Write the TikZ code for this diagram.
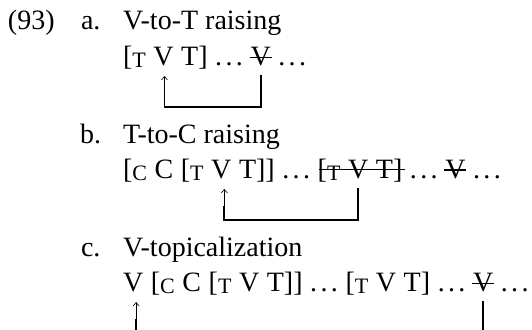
\documentclass[tikz,border=0pt]{standalone}
\usepackage{fontspec}
\setmainfont{Liberation Serif}
\usetikzlibrary{calc,arrows.meta}
\newcommand\lbl[1]{\raisebox{-2.5pt}{\fontsize{22}{22}\selectfont #1}}
\newcommand\dts{.\kern.12em.\kern.12em.}
\tikzset{
  txt/.style={inner sep=0pt, outer sep=0pt, anchor=base west, font=\fontsize{28}{33.6}\selectfont},
  strike/.style={line width=1.4pt},
  brk/.style={line width=1.8pt},
  arr/.style={line width=0.6pt, -{Straight Barb[length=3.5pt,width=6pt]}},
  sp/.style={xshift=7.6pt}
}
\begin{document}
\begin{tikzpicture}[x=1pt,y=-1pt]
\useasboundingbox (0,0) rectangle (532,329);
\clip (0,0) rectangle (532,329);
% labels
\node[txt] (ex) at (8,30) {(93)};
\node[txt] (la) at (81,30) {a.};
\node[txt] (ta) at (123,30) {V-to-T raising};
\node[txt] (lb) at (80,143) {b.};
\node[txt] (tb) at (123,143) {T-to-C raising};
\node[txt] (lc) at (81,256) {c.};
\node[txt] (tc) at (123,256) {V-topicalization};
% row a
\node[txt] (a1) at (123,65) {[\lbl{T}};
\node[txt] (aV) at ([sp]a1.base east) {V};
\node[txt] (a2) at ([sp]aV.base east) {T]};
\node[txt] (a3) at ([sp]a2.base east) {\dts};
\node[txt] (aX) at ([sp]a3.base east) {V};
\node[txt] (a4) at ([sp]aX.base east) {\dts};
\draw[strike] ($(aX.base west)+(-1,-7.5)$) -- ($(aX.base east)+(1,-7.5)$);
\draw[brk] ($(aX.base)+(0,10)$) -- ($(aX.base)+(0,42)$) -| ($(aV.base)+(1,28)$);
\draw[arr] ($(aV.base)+(1,28.9)$) -- ($(aV.base)+(1,11)$);
% row b
\node[txt] (b1) at (123,178) {[\lbl{C}};
\node[txt] (bC) at ([sp]b1.base east) {C};
\node[txt] (b2) at ([sp]bC.base east) {[\lbl{T}};
\node[txt] (bV) at ([sp]b2.base east) {V};
\node[txt] (b3) at ([sp]bV.base east) {T]]};
\node[txt] (b4) at ([sp]b3.base east) {\dts};
\node[txt] (b5) at ([sp]b4.base east) {[\lbl{T}};
\node[txt] (bXV) at ([sp]b5.base east) {V};
\node[txt] (b6) at ([sp]bXV.base east) {T]};
\node[txt] (b7) at ([sp]b6.base east) {\dts};
\node[txt] (bY) at ([sp]b7.base east) {V};
\node[txt] (b8) at ([sp]bY.base east) {\dts};
\draw[strike] ($(b5.base west)+(1,-8.5)$) -- ($(b6.base east)+(3,-8.5)$);
\draw[strike] ($(bY.base west)+(-1,-8)$) -- ($(bY.base east)+(1,-8)$);
\draw[brk] ($(bXV.base)+(0,10)$) -- ($(bXV.base)+(0,42)$) -| ($(bV.base)+(3,28)$);
\draw[arr] ($(bV.base)+(3,28.9)$) -- ($(bV.base)+(3,11)$);
% row c
\node[txt] (cV) at (123,291) {V};
\node[txt] (c1) at ([sp]cV.base east) {[\lbl{C}};
\node[txt] (c2) at ([sp]c1.base east) {C};
\node[txt] (c3) at ([sp]c2.base east) {[\lbl{T}};
\node[txt] (c4) at ([sp]c3.base east) {V};
\node[txt] (c5) at ([sp]c4.base east) {T]]};
\node[txt] (c6) at ([sp]c5.base east) {\dts};
\node[txt] (c7) at ([sp]c6.base east) {[\lbl{T}};
\node[txt] (c8) at ([sp]c7.base east) {V};
\node[txt] (c9) at ([sp]c8.base east) {T]};
\node[txt] (c10) at ([sp]c9.base east) {\dts};
\node[txt] (cX) at ([sp]c10.base east) {V};
\node[txt] (c11) at ([sp]cX.base east) {\dts};
\draw[strike] ($(cX.base west)+(-1,-7.5)$) -- ($(cX.base east)+(1,-7.5)$);
\draw[brk] ($(cX.base)+(0,10)$) -- ($(cX.base)+(0,42)$) -| ($(cV.base)+(3,28)$);
\draw[arr] ($(cV.base)+(3,28.9)$) -- ($(cV.base)+(3,11)$);
\end{tikzpicture}
\end{document}
